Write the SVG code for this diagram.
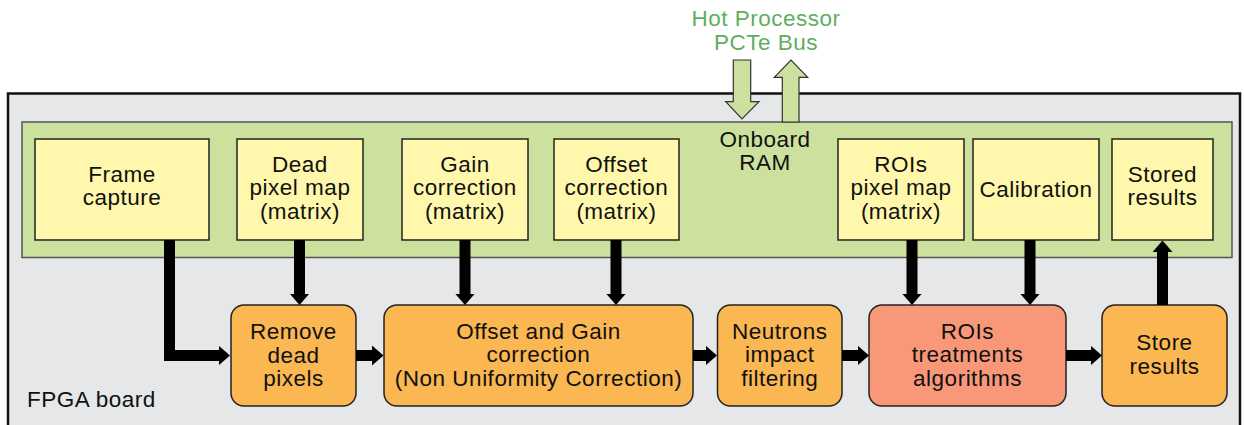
<svg xmlns="http://www.w3.org/2000/svg" width="1244" height="425" viewBox="0 0 1244 425">
<style>
  text { font-family: "Liberation Sans", Arial, sans-serif; font-size: 22.5px; letter-spacing: 0.5px; fill: #111; text-anchor: middle; }
  .board { fill: #e6e7e8; stroke: #111; stroke-width: 2.5; }
  .ram { fill: #cde19e; stroke: #555; stroke-width: 1.5; }
  .mem { fill: #fff8ac; stroke: #222; stroke-width: 1.5; }
  .proc { fill: #fbb752; stroke: #222; stroke-width: 1.5; }
  .roi { fill: #f89878; stroke: #222; stroke-width: 1.5; }
  .bus { fill: #cde19e; stroke: #333; stroke-width: 1.2; stroke-linejoin: miter; }
  .busText { fill: #5fae5f; }
  .conn { fill: none; stroke: #000; stroke-width: 11; stroke-linejoin: miter; marker-end: url(#head); }
</style>
<defs>
  <marker id="head" markerUnits="userSpaceOnUse" markerWidth="12" markerHeight="20" viewBox="0 0 12 20" refX="0.5" refY="10" orient="auto">
    <path d="M0,0 L11.5,10 L0,20 z" fill="#000"/>
  </marker>
</defs>

<g id="fpga-board">
  <rect class="board" x="8" y="93.5" width="1232" height="345"/>
  <text x="27" y="407" style="text-anchor:start">FPGA board</text>
</g>

<g id="onboard-ram">
  <rect class="ram" x="22" y="122" width="1210" height="135.5"/>
  <text x="765" y="146.5">Onboard</text>
  <text x="765" y="169.5">RAM</text>
</g>

<g id="bus">
  <polygon class="bus" points="733.3,60 750.7,60 750.7,101.7 759,101.7 742,119 725.7,101.7 733.3,101.7"/>
  <polygon class="bus" points="782.3,122 799,122 799,77.3 807.7,77.3 791,60 774.3,77.3 782.3,77.3"/>
  <text class="busText" x="766" y="26">Hot Processor</text>
  <text class="busText" x="766" y="49.5">PCTe Bus</text>
</g>

<g id="frame-capture">
  <rect class="mem" x="35" y="139" width="174" height="101"/>
  <text x="122" y="181.5">Frame</text>
  <text x="122" y="205">capture</text>
</g>
<g id="dead-pixel-map">
  <rect class="mem" x="237" y="139" width="126" height="101"/>
  <text x="300" y="171.5">Dead</text>
  <text x="300" y="195">pixel map</text>
  <text x="300" y="218.5">(matrix)</text>
</g>
<g id="gain-correction">
  <rect class="mem" x="402" y="139" width="126" height="101"/>
  <text x="465" y="171.5">Gain</text>
  <text x="465" y="195">correction</text>
  <text x="465" y="218.5">(matrix)</text>
</g>
<g id="offset-correction">
  <rect class="mem" x="554" y="139" width="125" height="101"/>
  <text x="616.5" y="171.5">Offset</text>
  <text x="616.5" y="195">correction</text>
  <text x="616.5" y="218.5">(matrix)</text>
</g>
<g id="rois-pixel-map">
  <rect class="mem" x="838" y="139" width="126" height="101"/>
  <text x="901" y="171.5">ROIs</text>
  <text x="901" y="195">pixel map</text>
  <text x="901" y="218.5">(matrix)</text>
</g>
<g id="calibration">
  <rect class="mem" x="973" y="139" width="126" height="101"/>
  <text x="1036" y="197">Calibration</text>
</g>
<g id="stored-results">
  <rect class="mem" x="1112" y="139" width="101" height="101"/>
  <text x="1162.5" y="181.5">Stored</text>
  <text x="1162.5" y="205">results</text>
</g>

<g id="remove-dead-pixels">
  <rect class="proc" x="231" y="305" width="125" height="101" rx="13"/>
  <text x="293.5" y="339">Remove</text>
  <text x="293.5" y="362.5">dead</text>
  <text x="293.5" y="386">pixels</text>
</g>
<g id="offset-gain">
  <rect class="proc" x="384" y="305" width="309" height="101" rx="13"/>
  <text x="538.5" y="338.5">Offset and Gain</text>
  <text x="538.5" y="362">correction</text>
  <text x="538.5" y="386">(Non Uniformity Correction)</text>
</g>
<g id="neutrons-filtering">
  <rect class="proc" x="717.5" y="305" width="124.5" height="101" rx="13"/>
  <text x="779.75" y="338.5">Neutrons</text>
  <text x="779.75" y="362">impact</text>
  <text x="779.75" y="386">filtering</text>
</g>
<g id="rois-treatments">
  <rect class="roi" x="869" y="305" width="197" height="101" rx="13"/>
  <text x="967.5" y="338.5">ROIs</text>
  <text x="967.5" y="362">treatments</text>
  <text x="967.5" y="386">algorithms</text>
</g>
<g id="store-results">
  <rect class="proc" x="1102" y="305" width="125" height="101" rx="13"/>
  <text x="1164.5" y="350">Store</text>
  <text x="1164.5" y="373.5">results</text>
</g>

<g id="connectors">
  <path class="conn" d="M169.5,240 V355.5 H219"/>
  <path class="conn" d="M299.5,240 V294"/>
  <path class="conn" d="M465,240 V294"/>
  <path class="conn" d="M616,240 V294"/>
  <path class="conn" d="M912,240 V294"/>
  <path class="conn" d="M1030,240 V294"/>
  <path class="conn" d="M1162.5,305 V251.5"/>
  <path class="conn" d="M356,355.5 H372.5"/>
  <path class="conn" d="M693,355.5 H706"/>
  <path class="conn" d="M842,355.5 H858"/>
  <path class="conn" d="M1066,355.5 H1091"/>
</g>
</svg>
